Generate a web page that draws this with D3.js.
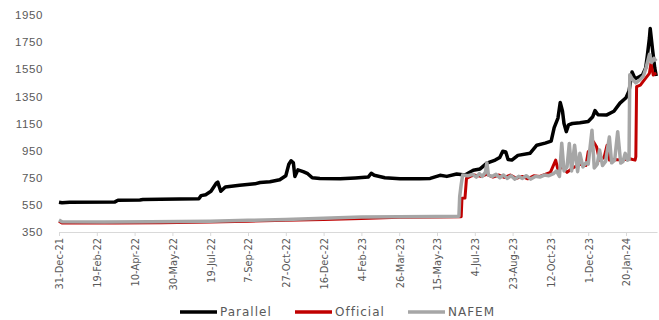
<!DOCTYPE html>
<html>
<head>
<meta charset="utf-8">
<script src="https://cdn.jsdelivr.net/npm/d3@7"></script>
<style>
  body { margin: 0; background: #fff; }
  svg { display: block; }
  text { fill: #595959; }
</style>
</head>
<body>
<div id="chart"></div>
<script>
// values (date, rate)
const parallel = [
  ["2021-12-31",570],["2022-01-04",566],["2022-01-14",570],["2022-03-15",572],["2022-03-19",584],
  ["2022-04-17",586],["2022-04-21",590],["2022-05-14",592],["2022-07-04",595],["2022-07-07",618],
  ["2022-07-13",625],["2022-07-20",650],["2022-07-27",710],["2022-07-29",718],["2022-08-02",650],
  ["2022-08-08",682],["2022-08-27",695],["2022-09-16",705],["2022-09-23",715],["2022-10-06",720],
  ["2022-10-19",735],["2022-10-27",765],["2022-10-31",850],["2022-11-03",875],["2022-11-06",860],
  ["2022-11-08",760],["2022-11-12",808],["2022-11-19",795],["2022-11-25",780],["2022-12-01",750],
  ["2022-12-11",745],["2023-01-07",742],["2023-01-27",748],["2023-02-13",755],["2023-02-17",783],
  ["2023-02-21",768],["2023-03-07",750],["2023-03-27",742],["2023-04-22",742],["2023-05-06",745],
  ["2023-05-19",768],["2023-05-28",760],["2023-06-10",778],["2023-06-21",770],["2023-07-02",805],
  ["2023-07-11",815],["2023-07-20",858],["2023-07-31",880],["2023-08-06",900],["2023-08-10",945],
  ["2023-08-14",940],["2023-08-17",885],["2023-08-22",880],["2023-08-30",915],["2023-09-15",930],
  ["2023-09-24",990],["2023-10-05",1005],["2023-10-13",1020],["2023-10-17",1120],["2023-10-22",1190],
  ["2023-10-25",1305],["2023-10-28",1240],["2023-10-30",1150],["2023-11-02",1090],["2023-11-05",1140],
  ["2023-11-10",1150],["2023-11-20",1155],["2023-12-01",1165],["2023-12-07",1200],["2023-12-10",1245],
  ["2023-12-14",1215],["2023-12-25",1212],["2024-01-04",1240],["2024-01-12",1300],["2024-01-20",1340],
  ["2024-01-24",1390],["2024-01-28",1530],["2024-02-01",1480],["2024-02-05",1490],["2024-02-11",1510],
  ["2024-02-15",1560],["2024-02-17",1640],["2024-02-20",1780],["2024-02-21",1850],["2024-02-24",1700],
  ["2024-02-27",1560],["2024-02-29",1500]
];

const official = [
  ["2021-12-31",430],["2022-01-04",416],["2022-03-15",416],["2022-05-15",418],["2022-07-19",424],
  ["2022-09-07",430],["2022-10-27",436],["2022-12-16",443],["2023-02-04",450],["2023-03-26",458],
  ["2023-05-15",461],["2023-06-16",463],["2023-06-17",598],["2023-06-21",600],["2023-06-23",745],
  ["2023-06-28",760],["2023-07-03",770],["2023-07-12",760],["2023-07-20",775],["2023-07-28",755],
  ["2023-08-05",770],["2023-08-12",752],["2023-08-20",770],["2023-08-28",745],["2023-09-05",760],
  ["2023-09-12",742],["2023-09-20",765],["2023-09-28",760],["2023-10-05",775],["2023-10-12",790],
  ["2023-10-19",880],["2023-10-22",807],["2023-10-28",830],["2023-11-03",790],["2023-11-10",820],
  ["2023-11-20",850],["2023-11-28",840],["2023-12-01",942],["2023-12-04",955],["2023-12-08",1016],
  ["2023-12-12",979],["2023-12-16",880],["2023-12-22",900],["2023-12-26",990],["2023-12-29",880],
  ["2024-01-05",885],["2024-01-15",880],["2024-01-25",890],["2024-02-01",880],["2024-02-02",905],
  ["2024-02-03",1421],["2024-02-08",1433],["2024-02-13",1470],["2024-02-20",1520],["2024-02-22",1594],
  ["2024-02-25",1507],["2024-02-29",1523]
];

const nafem = [
  ["2021-12-31",438],["2022-01-04",426],["2022-03-01",424],["2022-05-01",425],["2022-07-19",430],
  ["2022-09-07",436],["2022-10-27",442],["2022-12-16",452],["2023-02-04",460],["2023-03-26",463],
  ["2023-05-15",464],["2023-06-13",466],["2023-06-14",610],["2023-06-16",700],["2023-06-18",770],
  ["2023-06-25",765],["2023-07-01",775],["2023-07-06",755],["2023-07-10",780],["2023-07-14",760],
  ["2023-07-18",790],["2023-07-20",860],["2023-07-22",770],["2023-07-27",760],["2023-08-01",775],
  ["2023-08-06",750],["2023-08-11",770],["2023-08-16",745],["2023-08-21",765],["2023-08-26",740],
  ["2023-08-31",760],["2023-09-05",745],["2023-09-10",765],["2023-09-16",740],["2023-09-22",760],
  ["2023-09-28",755],["2023-10-04",770],["2023-10-10",765],["2023-10-16",780],["2023-10-20",800],
  ["2023-10-24",760],["2023-10-27",1005],["2023-10-30",800],["2023-11-03",830],["2023-11-06",1003],
  ["2023-11-09",800],["2023-11-13",990],["2023-11-17",795],["2023-11-20",930],["2023-11-24",830],
  ["2023-11-28",860],["2023-12-01",850],["2023-12-06",1100],["2023-12-09",822],["2023-12-13",850],
  ["2023-12-16",955],["2023-12-20",840],["2023-12-24",870],["2023-12-29",1050],["2024-01-01",860],
  ["2024-01-05",880],["2024-01-09",1090],["2024-01-13",858],["2024-01-16",870],["2024-01-19",930],
  ["2024-01-22",880],["2024-01-24",885],["2024-01-25",1510],["2024-01-28",1480],["2024-02-02",1450],
  ["2024-02-08",1475],["2024-02-12",1500],["2024-02-16",1570],["2024-02-20",1660],["2024-02-23",1600],
  ["2024-02-26",1630],["2024-02-29",1610]
];

const yTicks = [350, 550, 750, 950, 1150, 1350, 1550, 1750, 1950];
const xStart = "2021-12-31", xEnd = "2024-03-01";
const tickStepDays = 50;

const series = [
  {name: "Parallel", data: parallel, color: "#000000", width: 3.5},
  {name: "Official", data: official, color: "#c00000", width: 3},
  {name: "NAFEM", data: nafem, color: "#a6a6a6", width: 3.5}
];

const width = 659, height = 320;
const parse = d3.utcParse("%Y-%m-%d");
const fmt = d3.utcFormat("%-d-%b-%y");

const svg = d3.select("#chart").append("svg")
  .attr("width", width).attr("height", height)
  .style("font-family", "'DejaVu Sans', sans-serif");

const x = d3.scaleUtc().domain([parse(xStart), parse(xEnd)]).range([59, 657]);
const y = d3.scaleLinear().domain([350, 1950]).range([232, 15]);

const xTickVals = d3.range(0, 16).map(k => d3.utcDay.offset(parse(xStart), k * tickStepDays));

// x axis
const xAxis = svg.append("g")
  .attr("transform", `translate(0,${y(350)})`)
  .call(d3.axisBottom(x).tickValues(xTickVals).tickFormat(fmt).tickSizeInner(4).tickSizeOuter(0));
xAxis.select(".domain").attr("stroke", "#d9d9d9");
xAxis.selectAll(".tick line").attr("stroke", "#d9d9d9");
xAxis.selectAll(".tick text")
  .attr("transform", "rotate(-90)")
  .attr("x", -6).attr("y", 0).attr("dy", "0.35em")
  .style("text-anchor", "end")
  .style("font-family", "'DejaVu Sans Condensed', 'DejaVu Sans', sans-serif")
  .style("font-size", "11px")
  .attr("fill", "#595959");

// y axis
const yAxis = svg.append("g")
  .attr("transform", "translate(43,0)")
  .call(d3.axisLeft(y).tickValues(yTicks).tickFormat(d3.format("d")).tickSize(0).tickPadding(0));
yAxis.select(".domain").remove();
yAxis.selectAll(".tick text")
  .style("font-size", "11.5px")
  .style("letter-spacing", "0.6px")
  .attr("fill", "#595959");

const line = d3.line()
  .x(d => x(parse(d[0])))
  .y(d => y(d[1]));

svg.selectAll(".series")
  .data(series)
  .enter().append("path")
    .attr("class", "series")
    .attr("fill", "none")
    .attr("stroke", d => d.color)
    .attr("stroke-width", d => d.width)
    .attr("stroke-linejoin", "round")
    .attr("d", d => line(d.data));

// legend
const legendX = [180, 295, 408];
const legend = svg.selectAll(".legend")
  .data(series)
  .enter().append("g")
    .attr("class", "legend")
    .attr("transform", (d, i) => `translate(${legendX[i]},312)`);
legend.append("line")
  .attr("x1", 0).attr("x2", 37)
  .attr("stroke", d => d.color)
  .attr("stroke-width", 3.5);
legend.append("text")
  .attr("x", 40).attr("dy", "0.35em")
  .style("font-size", "12px")
  .style("letter-spacing", "1px")
  .attr("fill", "#595959")
  .text(d => d.name);
</script>
</body>
</html>
